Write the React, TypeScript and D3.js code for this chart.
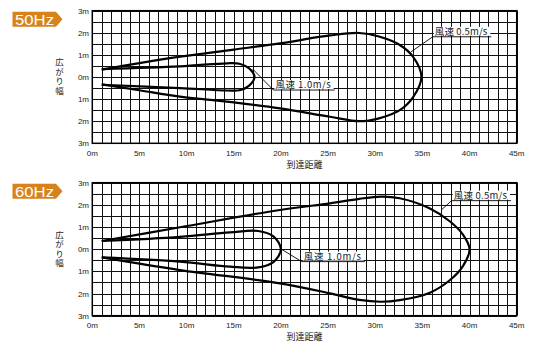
import React from "react";
import * as d3 from "d3";

type Pt = [number, number];

// X axis ticks (m) and Y axis ticks (m)
const xTicks = [0, 5, 10, 15, 20, 25, 30, 35, 40, 45];
const yTicks = [3, 2, 1, 0, -1, -2, -3];
const xTitle = "到達距離";
const yTitle = "広がり幅";

// 50Hz curves
const hz50_05: Pt[] = [
  [1, 0.33], [5, 0.63], [9.3, 0.92], [15, 1.24], [19.9, 1.52], [25.2, 1.88], [28.3, 1.99],
  [30.4, 1.83], [32.6, 1.45], [34.0, 0.92], [34.9, 0], [34.0, -0.92], [32.6, -1.5],
  [30.4, -1.87], [28.3, -2.0], [25.2, -1.8], [19.9, -1.42], [15, -1.15], [9.3, -0.89],
  [5, -0.6], [1, -0.33],
];
const hz50_10: Pt[] = [
  [1, 0.36], [9.3, 0.48], [14.3, 0.62], [15.6, 0.6], [16.6, 0.4], [17.2, 0],
  [16.6, -0.4], [15.6, -0.6], [14.3, -0.61], [9.3, -0.5], [1, -0.35],
];
// 60Hz curves
const hz60_05: Pt[] = [
  [1, 0.37], [9.3, 0.99], [19.9, 1.77], [25.2, 2.07], [28.3, 2.27], [30.6, 2.37], [32.6, 2.3],
  [35.8, 1.84], [37.9, 1.26], [39.3, 0.66], [40.0, 0], [39.3, -0.76], [37.9, -1.4],
  [35.8, -1.96], [32.6, -2.3], [30.6, -2.37], [28.3, -2.29], [25.2, -1.99], [19.9, -1.54],
  [9.3, -0.94], [1, -0.37],
];
const hz60_10: Pt[] = [
  [1, 0.37], [9.3, 0.56], [14.6, 0.76], [17.6, 0.82], [19.2, 0.58], [20.0, 0],
  [19.2, -0.58], [17.6, -0.82], [14.6, -0.79], [9.3, -0.56], [1, -0.37],
];

// label: anchor on curve, elbow, end of underline (data units)
type Label = { text: string; anchor: Pt; elbow: Pt; endX: number };
const labels50: Label[] = [
  { text: "風速 1.0m/s", anchor: [17.0, 0.36], elbow: [19.2, -0.59], endX: 25.7 },
  { text: "風速 0.5m/s", anchor: [33.8, 1.14], elbow: [36.1, 1.82], endX: 42.3 },
];
const labels60: Label[] = [
  { text: "風速 1.0m/s", anchor: [19.9, 0.04], elbow: [22.2, -0.56], endX: 28.9 },
  { text: "風速 0.5m/s", anchor: [37.0, 1.77], elbow: [38.1, 2.19], endX: 44.4 },
];

const FONT = "'Liberation Sans', Arial, sans-serif";
const CJK = "'Noto Sans CJK JP', 'Liberation Sans', sans-serif";

function Panel({ top, bottom, badge, curves, labels }: {
  top: number; bottom: number; badge: string; curves: Pt[][]; labels: Label[];
}) {
  const x = d3.scaleLinear().domain([0, 45]).range([92.3, 516.7]);
  const y = d3.scaleLinear().domain([-3, 3]).range([bottom, top]);
  const line = d3.line<Pt>().x((d) => x(d[0])).y((d) => y(d[1])).curve(d3.curveCatmullRom.alpha(0.5));
  const vLines = d3.range(0, 46, 1);
  const hLines = d3.range(-3, 3.01, 0.5);
  const crisp = (v: number) => Math.round(v) + 0.5;
  const badgeY = top + 1;
  const yMid = (top + bottom) / 2;
  return (
    <g>
      {/* badge */}
      <path d={`M12.5,${badgeY} H56 L62.5,${badgeY + 7.5} L56,${badgeY + 15} H12.5 Z`} fill="#d8821c" />
      <text x={15} y={badgeY + 12.8} fill="#fff" fontFamily={FONT} fontSize={14.5} textLength={39} lengthAdjust="spacingAndGlyphs">{badge}</text>
      {/* grid */}
      {vLines.map((v) => (
        <line key={"v" + v} x1={crisp(x(v))} x2={crisp(x(v))} y1={y(3)} y2={y(-3)} stroke="#111" strokeWidth={1} />
      ))}
      {hLines.map((v) => (
        <line key={"h" + v} x1={x(0)} x2={x(45)} y1={crisp(y(v))} y2={crisp(y(v))} stroke="#111" strokeWidth={1} />
      ))}
      <rect x={x(0)} y={y(3)} width={x(45) - x(0)} height={y(-3) - y(3)} fill="none" stroke="#000" strokeWidth={1.5} />
      {/* tick labels */}
      {xTicks.map((t) => (
        <text key={"xt" + t} x={x(t)} y={bottom + 12.5} textAnchor="middle" fontFamily={FONT} fontSize={8} fill="#222">{t + "m"}</text>
      ))}
      {yTicks.map((t) => (
        <text key={"yt" + t} x={89} y={y(t) + 3} textAnchor="end" fontFamily={FONT} fontSize={8} fill="#222">{Math.abs(t) + "m"}</text>
      ))}
      <text x={(x(0) + x(45)) / 2} y={bottom + 24.5} textAnchor="middle" fontFamily={CJK} fontSize={9} fill="#222">{xTitle}</text>
      <text x={59.5} y={yMid} textAnchor="middle" fontFamily={CJK} fontSize={8.5} fill="#222"
        letterSpacing={1} style={{ writingMode: "vertical-rl" }}>{yTitle}</text>
      {/* curves */}
      {curves.map((c, i) => (
        <path key={"c" + i} d={line(c) || ""} fill="none" stroke="#000" strokeWidth={2.2} strokeLinejoin="round" />
      ))}
      {/* labels */}
      {labels.map((l, i) => {
        const ex = x(l.elbow[0]);
        const ey = y(l.elbow[1]);
        const endx = x(l.endX);
        return (
          <g key={"l" + i}>
            <rect x={ex + 1} y={ey - 10} width={endx - ex - 2} height={9} fill="#fff" />
            <line x1={x(l.anchor[0])} y1={y(l.anchor[1])} x2={ex} y2={ey} stroke="#000" strokeWidth={0.9} />
            <line x1={ex} y1={ey} x2={endx} y2={ey} stroke="#000" strokeWidth={0.9} />
            <text x={ex + 2} y={ey - 2} fontFamily={CJK} fontSize={9.5} fill="#222" textLength={endx - ex - 6} lengthAdjust="spacing">{l.text}</text>
          </g>
        );
      })}
    </g>
  );
}

export default function App() {
  return (
    <svg width={543} height={350} style={{ position: "absolute", left: 0, top: 0, background: "#fff" }}>
      <rect width={543} height={350} fill="#fff" />
      <Panel top={10.7} bottom={143.3} badge="50Hz" curves={[hz50_05, hz50_10]} labels={labels50} />
      <Panel top={182.7} bottom={315.7} badge="60Hz" curves={[hz60_05, hz60_10]} labels={labels60} />
    </svg>
  );
}
